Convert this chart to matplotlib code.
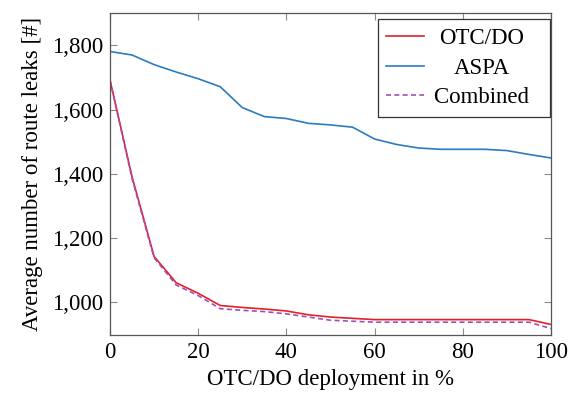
import matplotlib
matplotlib.use("Agg")
import matplotlib.pyplot as plt
from matplotlib.ticker import FuncFormatter
from matplotlib.text import Text

plt.rcParams['font.family'] = ['Liberation Serif', 'DejaVu Serif']

deployment = [0, 5, 10, 15, 20, 25, 30, 35, 40, 45, 50, 55, 60, 65, 70, 75, 80, 85, 90, 95, 100]
otc_do = [1692, 1390, 1142, 1060, 1027, 989, 983, 978, 972, 960, 953, 949, 945, 945, 945, 945, 945, 945, 945, 945, 930]
aspa = [1781, 1770, 1740, 1717, 1696, 1671, 1606, 1578, 1572, 1557, 1552, 1545, 1508, 1491, 1480, 1476, 1476, 1476, 1472, 1460, 1449]
combined = [1692, 1385, 1138, 1053, 1020, 979, 974, 970, 963, 953, 943, 940, 937, 937, 937, 937, 937, 937, 937, 937, 917]
labels = ['OTC/DO', 'ASPA', 'Combined']

FS = 16.5
fig = plt.figure(figsize=(5.72, 3.96), dpi=100)
ax = fig.add_axes([0.1923, 0.154, 0.771, 0.8124])

ax.plot(deployment, otc_do, color='#e3202a', lw=1.2, label=labels[0])
ax.plot(deployment, aspa, color='#2c7bbf', lw=1.2, label=labels[1])
ax.plot(deployment, combined, color='#a04fb5', lw=1.2, ls=(0, (3, 2)), label=labels[2] + '  ')

ax.set_xlim(0, 100)
ax.set_ylim(897, 1900)
ax.set_xticks([0, 20, 40, 60, 80, 100])
ax.set_yticks([1000, 1200, 1400, 1600, 1800])
ax.yaxis.set_major_formatter(FuncFormatter(lambda v, p: f"{int(v):,}"))

ax.tick_params(direction='in', top=True, right=True, length=5, width=0.8,
               color='#888888', labelsize=FS, pad=5)
for s in ax.spines.values():
    s.set_color('#555555')
    s.set_linewidth(0.9)

ax.set_xlabel('OTC/DO deployment in %', fontsize=FS, labelpad=4)
ax.set_ylabel('Average number of route leaks [#]', fontsize=FS, labelpad=6)

leg = ax.legend(loc='upper right', bbox_to_anchor=(0.997, 0.982), fontsize=FS,
                frameon=True, fancybox=False, edgecolor='#333333', framealpha=1,
                handlelength=1.65, handletextpad=0.45, borderpad=0.38, labelspacing=0.38,
                borderaxespad=0.0)
leg.get_frame().set_linewidth(0.9)

# center the legend entries on the widest visible label
fig.canvas.draw()
r = fig.canvas.get_renderer()
widths = []
for lab in labels:
    tmp = Text(0, 0, lab, fontsize=FS, figure=fig)
    widths.append(tmp.get_window_extent(renderer=r).width)
wmax = max(widths)
for t, w in zip(leg.get_texts(), widths):
    t.set_position(((wmax - w) / 2, 0))

fig.savefig('out.png', dpi=100)
